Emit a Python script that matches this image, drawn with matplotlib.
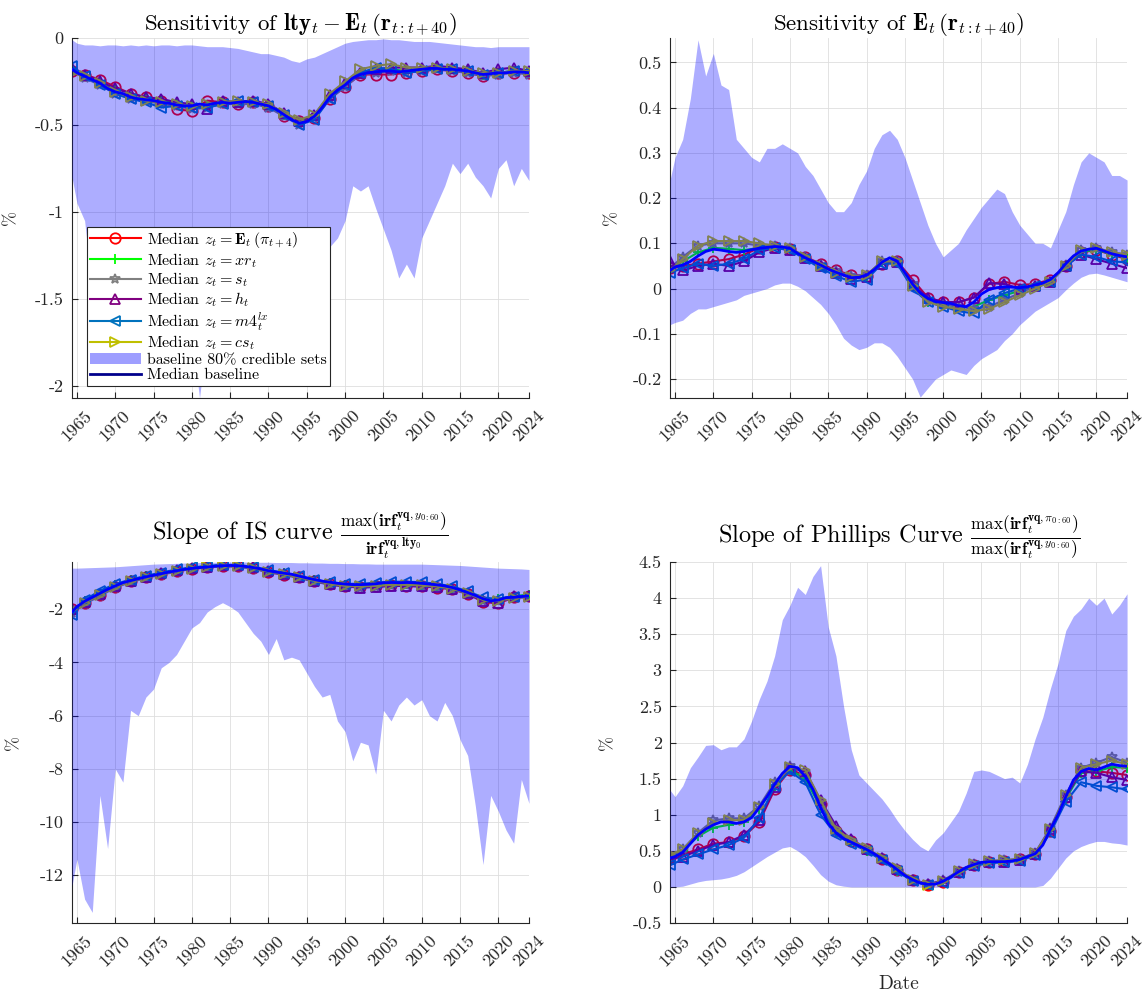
import matplotlib
matplotlib.use('Agg')
import matplotlib.pyplot as plt
from matplotlib.patches import Patch
from matplotlib.lines import Line2D

plt.rcParams['font.family'] = 'serif'
plt.rcParams['font.serif'] = ['cmr10']
plt.rcParams['mathtext.fontset'] = 'cm'
plt.rcParams['axes.unicode_minus'] = False
plt.rcParams['axes.formatter.use_mathtext'] = True

# dates: annual grid for bands / baseline, two-year grid for the alternative medians
years_a = [1964.35] + list(range(1965, 2025))
years_b = [1964.35] + list(range(1966, 2025, 2))

xticks = [1965, 1970, 1975, 1980, 1985, 1990, 1995, 2000, 2005, 2010, 2015, 2020, 2024]
xlabels = [str(y) for y in xticks]

# ---- panel 1: sensitivity of lty - E(r)
p1_hi = [-0.01,
         -0.03, -0.04, -0.04, -0.045, -0.04, -0.04, -0.045, -0.04, -0.045, -0.04,
         -0.045, -0.04, -0.04, -0.045, -0.04, -0.04, -0.045, -0.05, -0.05, -0.05,
         -0.055, -0.06, -0.07, -0.08, -0.09, -0.09, -0.1, -0.11, -0.13, -0.14,
         -0.12, -0.11, -0.09, -0.07, -0.05, -0.03, -0.02, -0.015, -0.01, -0.01,
         -0.005, -0.01, -0.01, -0.015, -0.02, -0.02, -0.02, -0.025, -0.03, -0.035,
         -0.04, -0.045, -0.05, -0.05, -0.055, -0.05, -0.05, -0.05, -0.05, -0.05]
p1_lo = [-0.8,
         -0.95, -1.05, -1.45, -1.5, -1.55, -1.5, -1.6, -1.55, -1.6, -1.55,
         -1.6, -1.55, -1.6, -1.65, -1.6, -1.7, -2.07, -1.7, -1.6, -1.65,
         -1.6, -1.65, -1.6, -1.55, -1.6, -1.55, -1.5, -1.55, -1.5, -1.45,
         -1.5, -1.45, -1.4, -1.2, -1.15, -1.05, -0.85, -0.88, -0.85, -0.98,
         -1.1, -1.22, -1.38, -1.3, -1.38, -1.15, -1.05, -0.95, -0.85, -0.72,
         -0.78, -0.72, -0.8, -0.85, -0.92, -0.75, -0.7, -0.85, -0.75, -0.82]
p1_base = [-0.18,
           -0.20, -0.22, -0.24, -0.26, -0.29, -0.31, -0.32, -0.34, -0.35, -0.355,
           -0.36, -0.37, -0.375, -0.385, -0.39, -0.39, -0.38, -0.385, -0.375, -0.37,
           -0.375, -0.37, -0.365, -0.37, -0.38, -0.39, -0.41, -0.44, -0.47, -0.49,
           -0.48, -0.45, -0.40, -0.34, -0.30, -0.27, -0.23, -0.21, -0.20, -0.195,
           -0.19, -0.19, -0.195, -0.19, -0.185, -0.18, -0.175, -0.175, -0.18, -0.18,
           -0.185, -0.19, -0.20, -0.21, -0.205, -0.20, -0.20, -0.195, -0.195, -0.20]
p1_pi = [-0.19, -0.21, -0.24, -0.28, -0.32, -0.34, -0.36, -0.41, -0.42, -0.36, -0.37, -0.38, -0.37, -0.39, -0.45, -0.48,
         -0.46, -0.35, -0.28, -0.21, -0.21, -0.21, -0.2, -0.19, -0.18, -0.19, -0.2, -0.22, -0.2, -0.2, -0.2]
p1_xr = [-0.18, -0.22, -0.26, -0.30, -0.34, -0.35, -0.36, -0.37, -0.39, -0.39, -0.37, -0.37, -0.37, -0.39, -0.44, -0.48,
         -0.44, -0.34, -0.27, -0.2, -0.19, -0.18, -0.19, -0.18, -0.17, -0.18, -0.19, -0.21, -0.2, -0.19, -0.2]
p1_s = [-0.19, -0.23, -0.27, -0.32, -0.35, -0.36, -0.38, -0.39, -0.41, -0.40, -0.38, -0.38, -0.38, -0.40, -0.45, -0.50,
        -0.46, -0.35, -0.28, -0.21, -0.2, -0.19, -0.2, -0.19, -0.18, -0.19, -0.2, -0.22, -0.21, -0.2, -0.21]
p1_h = [-0.17, -0.21, -0.25, -0.29, -0.32, -0.34, -0.35, -0.37, -0.38, -0.41, -0.36, -0.37, -0.36, -0.38, -0.43, -0.48,
        -0.44, -0.33, -0.26, -0.2, -0.18, -0.17, -0.17, -0.17, -0.16, -0.17, -0.18, -0.2, -0.18, -0.17, -0.19]
p1_m4 = [-0.16, -0.22, -0.27, -0.32, -0.35, -0.37, -0.40, -0.39, -0.40, -0.40, -0.38, -0.36, -0.37, -0.39, -0.44, -0.50,
         -0.47, -0.35, -0.27, -0.2, -0.17, -0.18, -0.2, -0.19, -0.18, -0.18, -0.19, -0.21, -0.2, -0.19, -0.19]
p1_cs = [-0.2, -0.22, -0.26, -0.31, -0.34, -0.36, -0.37, -0.38, -0.39, -0.38, -0.37, -0.36, -0.37, -0.38, -0.43, -0.47,
         -0.44, -0.32, -0.25, -0.18, -0.16, -0.15, -0.17, -0.17, -0.17, -0.18, -0.19, -0.2, -0.2, -0.19, -0.19]

# ---- panel 2: sensitivity of E(r)
p2_hi = [0.24,
         0.29, 0.33, 0.42, 0.55, 0.47, 0.52, 0.45, 0.44, 0.33, 0.31,
         0.29, 0.28, 0.31, 0.31, 0.32, 0.31, 0.30, 0.27, 0.25, 0.22,
         0.19, 0.17, 0.17, 0.19, 0.23, 0.26, 0.31, 0.34, 0.35, 0.33,
         0.29, 0.24, 0.19, 0.14, 0.10, 0.07, 0.085, 0.10, 0.13, 0.155,
         0.18, 0.20, 0.22, 0.21, 0.17, 0.14, 0.12, 0.10, 0.10, 0.09,
         0.13, 0.17, 0.23, 0.28, 0.30, 0.29, 0.28, 0.25, 0.25, 0.24]
p2_lo = [-0.08,
         -0.075, -0.07, -0.055, -0.045, -0.045, -0.04, -0.035, -0.03, -0.025, -0.015,
         -0.01, -0.005, 0.0, 0.008, 0.012, 0.012, 0.005, -0.005, -0.02, -0.035,
         -0.055, -0.08, -0.11, -0.125, -0.135, -0.13, -0.12, -0.12, -0.13, -0.15,
         -0.175, -0.2, -0.24, -0.22, -0.2, -0.19, -0.18, -0.185, -0.19, -0.17,
         -0.155, -0.145, -0.135, -0.115, -0.1, -0.08, -0.065, -0.05, -0.04, -0.03,
         -0.02, -0.003, 0.012, 0.025, 0.032, 0.034, 0.03, 0.025, 0.02, 0.015]
p2_base = [0.04,
           0.048, 0.052, 0.06, 0.072, 0.082, 0.087, 0.085, 0.082, 0.08, 0.082,
           0.086, 0.089, 0.091, 0.093, 0.092, 0.089, 0.078, 0.068, 0.06, 0.052,
           0.043, 0.036, 0.03, 0.024, 0.025, 0.03, 0.042, 0.058, 0.068, 0.06,
           0.035, 0.01, -0.01, -0.022, -0.029, -0.031, -0.033, -0.038, -0.04, -0.03,
           -0.012, -0.002, 0.002, 0.004, 0.003, 0.002, 0.004, 0.008, 0.012, 0.02,
           0.035, 0.055, 0.072, 0.083, 0.087, 0.089, 0.083, 0.077, 0.073, 0.07]
p2_pi = [0.045, 0.05, 0.055, 0.06, 0.065, 0.075, 0.09, 0.092, 0.088, 0.07, 0.055, 0.04, 0.03, 0.028, 0.055, 0.06,
         0.02, -0.02, -0.03, -0.03, -0.02, 0.01, 0.015, 0.008, 0.01, 0.02, 0.05, 0.08, 0.085, 0.075, 0.065]
p2_xr = [0.04, 0.06, 0.08, 0.09, 0.088, 0.085, 0.09, 0.093, 0.088, 0.068, 0.05, 0.035, 0.025, 0.028, 0.06, 0.058,
         0.005, -0.03, -0.035, -0.04, -0.04, -0.025, -0.015, -0.005, 0.005, 0.015, 0.05, 0.08, 0.087, 0.075, 0.068]
p2_s = [0.045, 0.07, 0.095, 0.1, 0.1, 0.1, 0.095, 0.095, 0.09, 0.07, 0.052, 0.038, 0.028, 0.03, 0.06, 0.062,
        0.01, -0.025, -0.035, -0.04, -0.045, -0.04, -0.025, -0.01, 0.005, 0.015, 0.052, 0.085, 0.09, 0.08, 0.075]
p2_h = [0.06, 0.04, 0.05, 0.055, 0.05, 0.06, 0.08, 0.09, 0.085, 0.068, 0.05, 0.035, 0.022, 0.025, 0.055, 0.058,
        0.008, -0.02, -0.03, -0.03, -0.02, 0.012, 0.01, 0.0, 0.005, 0.015, 0.05, 0.075, 0.065, 0.055, 0.045]
p2_m4 = [0.035, 0.045, 0.055, 0.05, 0.055, 0.065, 0.085, 0.09, 0.085, 0.065, 0.045, 0.028, 0.015, 0.02, 0.055, 0.055,
         0.0, -0.03, -0.04, -0.05, -0.055, -0.025, -0.01, 0.0, 0.005, 0.015, 0.05, 0.075, 0.07, 0.06, 0.058]
p2_cs = [0.04, 0.065, 0.095, 0.105, 0.105, 0.105, 0.1, 0.095, 0.09, 0.07, 0.05, 0.035, 0.025, 0.03, 0.06, 0.06,
         0.005, -0.03, -0.04, -0.045, -0.05, -0.045, -0.03, -0.015, 0.0, 0.015, 0.05, 0.085, 0.09, 0.08, 0.075]

# ---- panel 3: slope of IS curve
p3_hi = [-0.45,
         -0.45, -0.44, -0.43, -0.42, -0.41, -0.4, -0.38, -0.36, -0.34, -0.32,
         -0.3, -0.29, -0.28, -0.27, -0.26, -0.25, -0.24, -0.23, -0.23, -0.22,
         -0.22, -0.22, -0.22, -0.23, -0.23, -0.23, -0.24, -0.24, -0.24, -0.25,
         -0.25, -0.26, -0.26, -0.27, -0.27, -0.28, -0.28, -0.29, -0.29, -0.3,
         -0.3, -0.3, -0.3, -0.3, -0.3, -0.3, -0.31, -0.32, -0.33, -0.34,
         -0.35, -0.37, -0.39, -0.41, -0.43, -0.45, -0.46, -0.47, -0.48, -0.5]
p3_lo = [-12.4,
         -11.4, -12.9, -13.4, -9.0, -11.0, -8.0, -8.5, -5.8, -6.0, -5.3,
         -5.0, -4.2, -4.0, -3.7, -3.2, -2.7, -2.5, -2.1, -1.9, -1.75,
         -1.9, -2.1, -2.5, -2.9, -3.2, -3.7, -3.1, -3.9, -3.8, -3.9,
         -4.4, -4.9, -5.3, -5.2, -6.2, -6.6, -7.7, -7.0, -7.1, -8.2,
         -5.8, -6.2, -5.6, -5.3, -5.6, -5.4, -6.0, -6.2, -5.5, -6.0,
         -6.9, -7.5, -9.4, -11.6, -9.0, -9.6, -10.3, -10.8, -8.4, -9.3]
p3_base = [-2.1,
           -1.9, -1.7, -1.55, -1.4, -1.25, -1.12, -1.0, -0.92, -0.85, -0.78,
           -0.72, -0.66, -0.6, -0.55, -0.5, -0.46, -0.43, -0.41, -0.38, -0.36,
           -0.35, -0.36, -0.39, -0.43, -0.48, -0.55, -0.6, -0.64, -0.68, -0.75,
           -0.82, -0.88, -0.94, -0.98, -1.02, -1.05, -1.07, -1.07, -1.06, -1.04,
           -1.0, -0.99, -1.0, -0.99, -1.0, -1.02, -1.05, -1.08, -1.12, -1.18,
           -1.27, -1.37, -1.48, -1.6, -1.68, -1.65, -1.56, -1.55, -1.52, -1.5]
p3_pi = [-2.0, -1.75, -1.45, -1.15, -0.95, -0.8, -0.68, -0.56, -0.47, -0.42, -0.38, -0.38, -0.46, -0.6, -0.7, -0.8,
         -0.95, -1.06, -1.14, -1.16, -1.14, -1.1, -1.12, -1.14, -1.18, -1.25, -1.42, -1.72, -1.78, -1.55, -1.5]
p3_xr = [-2.05, -1.7, -1.4, -1.1, -0.9, -0.76, -0.63, -0.52, -0.44, -0.38, -0.34, -0.35, -0.42, -0.55, -0.65, -0.77,
         -0.9, -1.02, -1.1, -1.12, -1.1, -1.05, -1.06, -1.08, -1.12, -1.22, -1.4, -1.62, -1.6, -1.5, -1.45]
p3_s = [-2.15, -1.8, -1.5, -1.18, -0.98, -0.82, -0.7, -0.58, -0.48, -0.43, -0.38, -0.4, -0.48, -0.6, -0.7, -0.82,
        -0.96, -1.07, -1.14, -1.18, -1.15, -1.1, -1.1, -1.12, -1.16, -1.24, -1.42, -1.68, -1.7, -1.58, -1.55]
p3_h = [-2.0, -1.72, -1.42, -1.13, -0.92, -0.78, -0.65, -0.53, -0.44, -0.39, -0.33, -0.34, -0.42, -0.57, -0.68, -0.8,
        -0.94, -1.05, -1.14, -1.18, -1.16, -1.12, -1.12, -1.14, -1.16, -1.22, -1.4, -1.7, -1.75, -1.5, -1.5]
p3_m4 = [-2.2, -1.65, -1.3, -1.05, -0.88, -0.74, -0.62, -0.5, -0.42, -0.37, -0.33, -0.33, -0.4, -0.52, -0.62, -0.74,
         -0.88, -0.98, -1.04, -1.04, -1.0, -0.96, -0.96, -0.98, -1.04, -1.14, -1.32, -1.55, -1.62, -1.52, -1.48]
p3_cs = [-2.0, -1.75, -1.45, -1.15, -0.95, -0.8, -0.68, -0.56, -0.47, -0.41, -0.36, -0.37, -0.45, -0.58, -0.68, -0.8,
         -0.93, -1.04, -1.12, -1.14, -1.12, -1.08, -1.08, -1.1, -1.14, -1.22, -1.4, -1.65, -1.68, -1.56, -1.52]

# ---- panel 4: slope of Phillips curve
p4_hi = [1.34,
         1.25, 1.4, 1.65, 1.8, 1.96, 1.97, 1.9, 1.94, 1.94, 2.05,
         2.3, 2.6, 2.85, 3.2, 3.7, 3.9, 4.15, 4.05, 4.3, 4.45,
         3.6, 3.2, 2.5, 1.9, 1.55, 1.44, 1.33, 1.22, 1.08, 0.92,
         0.78, 0.66, 0.56, 0.5, 0.65, 0.75, 0.9, 1.05, 1.3, 1.6,
         1.62, 1.6, 1.55, 1.5, 1.52, 1.44, 1.7, 2.05, 2.35, 2.75,
         3.1, 3.55, 3.75, 3.85, 4.0, 3.9, 4.0, 3.78, 3.9, 4.06]
p4_lo = [0.0,
         0.0, 0.01, 0.04, 0.07, 0.09, 0.1, 0.11, 0.13, 0.16, 0.21,
         0.28, 0.35, 0.42, 0.48, 0.54, 0.56, 0.5, 0.42, 0.3, 0.17,
         0.08, 0.03, 0.01, 0.0, 0.0, 0.0, 0.0, 0.0, 0.0, 0.0,
         0.0, 0.0, 0.0, 0.0, 0.0, 0.0, 0.0, 0.0, 0.0, 0.0,
         0.0, 0.0, 0.0, 0.0, 0.0, 0.0, 0.0, 0.0, 0.02, 0.12,
         0.26, 0.4, 0.5, 0.56, 0.6, 0.63, 0.63, 0.61, 0.6, 0.58]
p4_base = [0.4,
           0.42, 0.48, 0.6, 0.72, 0.8, 0.86, 0.9, 0.9, 0.88, 0.9,
           0.96, 1.1, 1.25, 1.42, 1.57, 1.67, 1.65, 1.53, 1.35, 1.1,
           0.88, 0.75, 0.67, 0.62, 0.57, 0.52, 0.46, 0.39, 0.32, 0.24,
           0.16, 0.1, 0.055, 0.035, 0.04, 0.08, 0.14, 0.21, 0.27, 0.31,
           0.34, 0.35, 0.35, 0.35, 0.36, 0.38, 0.42, 0.46, 0.58, 0.8,
           1.0, 1.25, 1.48, 1.6, 1.64, 1.62, 1.66, 1.7, 1.68, 1.67]
p4_pi = [0.42, 0.45, 0.52, 0.6, 0.62, 0.7, 0.9, 1.35, 1.62, 1.55, 1.15, 0.78, 0.64, 0.52, 0.38, 0.24,
         0.1, 0.03, 0.07, 0.2, 0.3, 0.35, 0.36, 0.38, 0.46, 0.78, 1.25, 1.6, 1.6, 1.58, 1.55]
p4_xr = [0.4, 0.5, 0.7, 0.82, 0.86, 0.9, 1.08, 1.4, 1.62, 1.5, 1.1, 0.75, 0.62, 0.5, 0.38, 0.22,
         0.08, 0.03, 0.08, 0.2, 0.3, 0.34, 0.35, 0.37, 0.45, 0.78, 1.22, 1.58, 1.6, 1.66, 1.65]
p4_s = [0.42, 0.52, 0.75, 0.92, 0.95, 0.95, 1.12, 1.45, 1.68, 1.58, 1.15, 0.78, 0.64, 0.53, 0.4, 0.25,
        0.1, 0.04, 0.09, 0.22, 0.32, 0.36, 0.37, 0.39, 0.47, 0.82, 1.28, 1.65, 1.72, 1.8, 1.72]
p4_h = [0.38, 0.42, 0.5, 0.58, 0.62, 0.72, 0.92, 1.38, 1.65, 1.6, 1.2, 0.85, 0.66, 0.53, 0.4, 0.25,
        0.1, 0.04, 0.08, 0.21, 0.31, 0.35, 0.35, 0.37, 0.46, 0.8, 1.25, 1.6, 1.58, 1.52, 1.48]
p4_m4 = [0.3, 0.38, 0.45, 0.52, 0.58, 0.68, 0.95, 1.4, 1.6, 1.45, 1.0, 0.72, 0.6, 0.5, 0.37, 0.22,
         0.08, 0.02, 0.06, 0.19, 0.29, 0.33, 0.34, 0.36, 0.44, 0.75, 1.18, 1.45, 1.4, 1.38, 1.35]
p4_cs = [0.45, 0.52, 0.74, 0.88, 0.92, 0.93, 1.1, 1.42, 1.66, 1.62, 1.2, 0.8, 0.65, 0.54, 0.4, 0.26,
         0.1, 0.03, 0.08, 0.22, 0.32, 0.36, 0.37, 0.39, 0.47, 0.8, 1.27, 1.65, 1.7, 1.75, 1.7]

# legend labels + marker styles of the six alternative medians
med_labels = [r'Median $z_t=\mathbf{E}_t\,(\pi_{t+4})$',
              r'Median $z_t=xr_t$',
              r'Median $z_t=s_t$',
              r'Median $z_t=h_t$',
              r'Median $z_t=m4_t^{lx}$',
              r'Median $z_t=cs_t$']
med_colors = [(1, 0, 0), (0, 1, 0), (0.5, 0.5, 0.5), (0.5, 0, 0.5), (0, 0.447, 0.741), (0.75, 0.75, 0)]
med_markers = ['o', '+', '*', '^', '<', '>']

titles = [r'Sensitivity of $\mathbf{lty}_t-\mathbf{E}_t\,(\mathbf{r}_{t:t+40})$',
          r'Sensitivity of $\mathbf{E}_t\,(\mathbf{r}_{t:t+40})$',
          r'Slope of IS curve $\frac{\max\left(\mathbf{irf}_t^{\mathbf{vq},y_{0:60}}\right)}{\mathbf{irf}_t^{\mathbf{vq},\mathbf{lty_0}}}$',
          r'Slope of Phillips Curve $\frac{\max\left(\mathbf{irf}_t^{\mathbf{vq},\pi_{0:60}}\right)}{\max\left(\mathbf{irf}_t^{\mathbf{vq},y_{0:60}}\right)}$']

p1_yticks = [-2, -1.5, -1, -0.5, 0]
p1_ylabels = ['-2', '-1.5', '-1', '-0.5', '0']
p2_yticks = [-0.2, -0.1, 0, 0.1, 0.2, 0.3, 0.4, 0.5]
p2_ylabels = ['-0.2', '-0.1', '0', '0.1', '0.2', '0.3', '0.4', '0.5']
p3_yticks = [-12, -10, -8, -6, -4, -2]
p3_ylabels = ['-12', '-10', '-8', '-6', '-4', '-2']
p4_yticks = [-0.5, 0, 0.5, 1, 1.5, 2, 2.5, 3, 3.5, 4, 4.5]
p4_ylabels = ['-0.5', '0', '0.5', '1', '1.5', '2', '2.5', '3', '3.5', '4', '4.5']

panels = [
    dict(rect=[0.0629, 0.6008, 0.3995, 0.3611], lo=p1_lo, hi=p1_hi, base=p1_base,
         meds=[p1_pi, p1_xr, p1_s, p1_h, p1_m4, p1_cs], ylim=(-2.07, 0),
         yt=p1_yticks, yl=p1_ylabels, tsize=16.5, pad=4, ylab=-0.118),
    dict(rect=[0.5857, 0.6008, 0.3995, 0.3611], lo=p2_lo, hi=p2_hi, base=p2_base,
         meds=[p2_pi, p2_xr, p2_s, p2_h, p2_m4, p2_cs], ylim=(-0.242, 0.554),
         yt=p2_yticks, yl=p2_ylabels, tsize=16.5, pad=4, ylab=-0.112),
    dict(rect=[0.0629, 0.0742, 0.3995, 0.3621], lo=p3_lo, hi=p3_hi, base=p3_base,
         meds=[p3_pi, p3_xr, p3_s, p3_h, p3_m4, p3_cs], ylim=(-13.8, -0.22),
         yt=p3_yticks, yl=p3_ylabels, tsize=17.5, pad=1, ylab=-0.112),
    dict(rect=[0.5857, 0.0742, 0.3995, 0.3621], lo=p4_lo, hi=p4_hi, base=p4_base,
         meds=[p4_pi, p4_xr, p4_s, p4_h, p4_m4, p4_cs], ylim=(-0.5, 4.5),
         yt=p4_yticks, yl=p4_ylabels, tsize=17.5, pad=1, ylab=-0.12),
]

band_col = (0, 0, 1)
axis_col = (0.15, 0.15, 0.15)

fig = plt.figure(figsize=(11.44, 9.97), dpi=100)
axes = []
for i, p in enumerate(panels):
    ax = fig.add_axes(p['rect'])
    axes.append(ax)
    # alternative medians sit under the band, baseline median on top
    for vals, col, mk in zip(p['meds'], med_colors, med_markers):
        ax.plot(years_b, vals, color=col, marker=mk, ms=7.5, mfc='none', mew=1.3, lw=1.5, zorder=2)
    ax.fill_between(years_a, p['lo'], p['hi'], color=band_col, alpha=0.32, lw=0, zorder=3)
    ax.plot(years_a, p['base'], color=(0, 0, 1), lw=2, zorder=4)

    ax.set_xlim(1964.35, 2024)
    ax.set_ylim(*p['ylim'])
    ax.set_xticks(xticks)
    ax.set_xticklabels(xlabels, rotation=45)
    ax.set_yticks(p['yt'])
    ax.set_yticklabels(p['yl'])
    ax.tick_params(direction='in', length=4, width=0.8, color=axis_col, labelcolor=axis_col, labelsize=13)
    ax.tick_params(axis='x', pad=7)
    ax.tick_params(axis='y', pad=6)
    ax.grid(True, color='#dedede', lw=0.6)
    ax.set_axisbelow(True)
    for s in ['top', 'right']:
        ax.spines[s].set_visible(False)
    for s in ['left', 'bottom']:
        ax.spines[s].set_color(axis_col)
        ax.spines[s].set_linewidth(0.8)
    ax.set_title(titles[i], fontsize=p['tsize'], pad=p['pad'], color='black')
    ax.set_ylabel('%', fontsize=13, color=axis_col)
    ax.yaxis.set_label_coords(p['ylab'], 0.5)

axes[3].set_xlabel('Date', fontsize=14, color=axis_col)
axes[3].xaxis.set_label_coords(0.5, -0.145)

handles = [Line2D([], [], color=c, marker=m, ms=7.5, mfc='none', mew=1.3, lw=1.5)
           for c, m in zip(med_colors, med_markers)]
handles.append(Patch(facecolor=band_col, alpha=0.38, lw=0))
handles.append(Line2D([], [], color=(0, 0, 0.55), lw=2))
labels = med_labels + ['baseline 80% credible sets', 'Median baseline']
leg = axes[0].legend(handles, labels, loc='upper left', bbox_to_anchor=(0.032, 0.475),
                     fontsize=11.5, handlelength=3.2, borderaxespad=0, labelspacing=0.06,
                     handletextpad=0.4, fancybox=False, framealpha=1, edgecolor=axis_col,
                     borderpad=0.2)
leg.get_frame().set_linewidth(0.8)
leg.set_zorder(10)

fig.savefig('out.png', dpi=100)
